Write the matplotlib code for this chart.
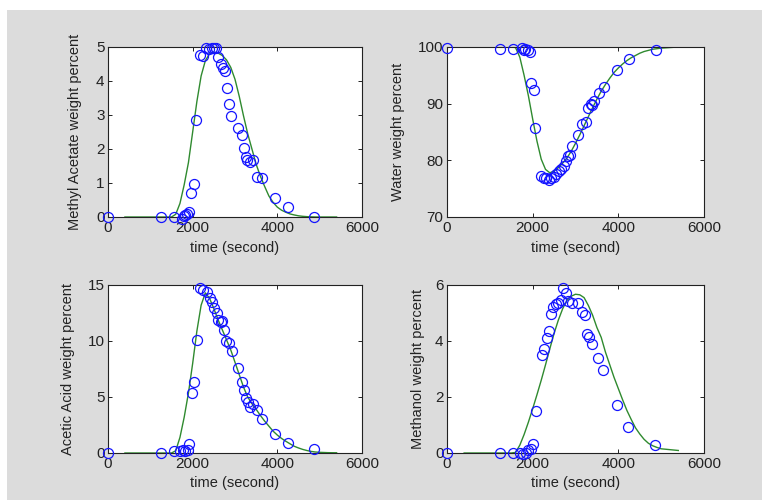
import matplotlib
matplotlib.use("Agg")
import matplotlib.pyplot as plt
from matplotlib.patches import Rectangle

plt.rcParams['font.family'] = ['Liberation Sans', 'DejaVu Sans']

# ---------------- data ----------------
t_model = [400, 1500, 1600, 1700, 1800, 1900, 2000, 2100, 2200, 2300, 2400, 2500,
           2600, 2700, 2800, 2900, 3000, 3100, 3200, 3300, 3400, 3500, 3600, 3700,
           3800, 3900, 4000, 4100, 4200, 4300, 4400, 4500, 4600, 4700, 4800, 4900,
           5000, 5200, 5400]

ma_model = [0, 0, 0.08, 0.4, 0.95, 1.6, 2.5, 3.4, 4.15, 4.6, 4.8, 4.85, 4.82, 4.75,
            4.62, 4.4, 4.05, 3.55, 2.98, 2.45, 2.0, 1.55, 1.2, 0.9, 0.62, 0.43, 0.29,
            0.2, 0.14, 0.09, 0.06, 0.035, 0.02, 0.01, 0.005, 0, 0, 0, 0]
water_model = [100, 100, 99.9, 98.2, 95.0, 91.4, 87.3, 83.4, 80.2, 78.4, 77.8, 78.1,
               78.7, 79.5, 80.4, 81.6, 83.0, 84.5, 86.1, 87.7, 89.3, 90.8, 92.2, 93.4,
               94.5, 95.5, 96.3, 97.0, 97.6, 98.1, 98.5, 98.9, 99.2, 99.4, 99.6, 99.7,
               99.8, 99.9, 100]
acetic_model = [0, 0, 0.2, 1.4, 3.2, 5.35, 8.0, 10.9, 13.2, 14.3, 13.8, 12.9, 11.9,
                11.0, 10.1, 9.2, 8.1, 7.0, 5.9, 5.0, 4.4, 3.9, 3.35, 2.85, 2.4, 1.95,
                1.6, 1.3, 1.05, 0.82, 0.6, 0.45, 0.32, 0.22, 0.14, 0.09, 0.06, 0.03, 0.02]
methanol_model = [0, 0, 0.02, 0.28, 0.66, 1.1, 1.58, 2.08, 2.6, 3.15, 3.72, 4.27, 4.75,
                  5.15, 5.45, 5.6, 5.67, 5.65, 5.55, 5.27, 4.92, 4.48, 4.13, 3.6, 3.15,
                  2.7, 2.3, 1.9, 1.52, 1.2, 0.9, 0.68, 0.49, 0.35, 0.26, 0.2, 0.15,
                  0.12, 0.09]

ma_t = [0, 1250, 1550, 1740, 1790, 1830, 1870, 1918, 1958, 2029, 2076, 2171, 2234,
        2305, 2384, 2447, 2502, 2542, 2605, 2660, 2720, 2763, 2800, 2866, 2905, 3063,
        3158, 3213, 3260, 3290, 3355, 3418, 3513, 3647, 3947, 4263, 4871]
ma_y = [0, 0, 0, -0.05, 0.02, 0.05, 0.1, 0.15, 0.72, 0.96, 2.85, 4.77, 4.73, 4.98,
        4.94, 4.98, 4.96, 4.98, 4.7, 4.5, 4.38, 4.3, 3.8, 3.33, 2.98, 2.62, 2.41,
        2.03, 1.75, 1.68, 1.63, 1.68, 1.19, 1.14, 0.57, 0.30, 0]

water_t = [0, 1231, 1543, 1754, 1793, 1832, 1886, 1933, 1972, 2026, 2065, 2198, 2260,
           2315, 2375, 2435, 2494, 2549, 2611, 2666, 2728, 2782, 2829, 2870, 2923,
           3063, 3157, 3235, 3297, 3352, 3390, 3440, 3546, 3663, 3975, 4248, 4871]
water_y = [99.8, 99.7, 99.7, 99.8, 99.5, 99.7, 99.4, 99.1, 93.7, 92.4, 85.7, 77.2,
           76.9, 76.8, 76.6, 76.9, 77.0, 77.5, 78.1, 78.5, 79.0, 79.9, 80.7, 80.9,
           82.5, 84.5, 86.4, 86.7, 89.2, 89.9, 89.8, 90.4, 91.8, 93.0, 96.0, 97.9, 99.4]

acetic_t = [0, 1247, 1563, 1700, 1760, 1830, 1880, 1918, 1974, 2037, 2092, 2171, 2250,
            2330, 2408, 2463, 2503, 2566, 2605, 2660, 2700, 2747, 2779, 2858, 2921,
            3063, 3158, 3213, 3260, 3316, 3355, 3418, 3529, 3647, 3947, 4263, 4871]
acetic_y = [0, 0, 0.15, 0.2, 0.25, 0.22, 0.3, 0.78, 5.4, 6.3, 10.1, 14.7, 14.55, 14.4,
            13.8, 13.5, 12.96, 12.5, 11.9, 11.7, 11.77, 11.0, 10.0, 9.8, 9.07, 7.57,
            6.3, 5.6, 4.88, 4.58, 4.13, 4.4, 3.83, 3.08, 1.74, 0.9, 0.33]

methanol_t = [0, 1227, 1537, 1704, 1766, 1844, 1899, 1954, 2015, 2080, 2213, 2267,
              2329, 2384, 2430, 2484, 2547, 2601, 2655, 2717, 2772, 2834, 2911, 3067,
              3144, 3222, 3276, 3323, 3377, 3533, 3649, 3960, 4231, 4852]
methanol_y = [0, 0, 0, 0, -0.02, 0.01, 0.09, 0.15, 0.33, 1.49, 3.5, 3.73, 4.09, 4.37,
              4.95, 5.23, 5.32, 5.35, 5.47, 5.88, 5.7, 5.43, 5.37, 5.35, 5.05, 4.93,
              4.24, 4.15, 3.89, 3.41, 2.98, 1.73, 0.93, 0.27]

panels = [
    ("Methyl Acetate weight percent", ma_t, ma_y, ma_model, (0, 5), [0, 1, 2, 3, 4, 5]),
    ("Water weight percent", water_t, water_y, water_model, (70, 100), [70, 80, 90, 100]),
    ("Acetic Acid weight percent", acetic_t, acetic_y, acetic_model, (0, 15), [0, 5, 10, 15]),
    ("Methanol weight percent", methanol_t, methanol_y, methanol_model, (0, 6), [0, 2, 4, 6]),
]
x_ticks = [0, 2000, 4000, 6000]

# ---------------- layout ----------------
W, H = 762, 500
fig = plt.figure(figsize=(W / 100, H / 100), dpi=100, facecolor='white')
fig.patches.append(Rectangle((7 / W, 0), 1, 1 - 10 / H, transform=fig.transFigure,
                             facecolor='#dcdcdc', edgecolor='none', zorder=-10))

rects = [
    [108 / W, 1 - 217 / H, 254 / W, 170 / H],
    [447 / W, 1 - 217 / H, 257 / W, 170 / H],
    [108 / W, 1 - 453 / H, 254 / W, 168 / H],
    [447 / W, 1 - 453 / H, 257 / W, 168 / H],
]
ylabel_x = [-0.13, -0.19, -0.157, -0.113]

for (label, tt, yy, model, ylim, yt), rect, lx in zip(panels, rects, ylabel_x):
    ax = fig.add_axes(rect)
    ax.set_facecolor('white')
    ax.plot(t_model, model, color='#2f8a2f', lw=1.0, zorder=2)
    ax.plot(tt, yy, linestyle='none', marker='o', markersize=7.2,
            markerfacecolor='none', markeredgecolor='#1414ff', markeredgewidth=0.9,
            clip_on=False, zorder=3)
    ax.set_xlim(0, 6000)
    ax.set_ylim(*ylim)
    ax.set_xticks(x_ticks)
    ax.set_yticks(yt)
    ax.tick_params(direction='in', length=3, width=0.7, top=True, right=True,
                   labelsize=11, colors='#222222')
    ax.tick_params(axis='x', pad=3)
    ax.tick_params(axis='y', pad=2.5)
    for s in ax.spines.values():
        s.set_linewidth(0.8)
        s.set_color('#222222')
    ax.set_xlabel("time (second)", fontsize=10.5, color='#222222', va='center')
    ax.xaxis.set_label_coords(0.5, -0.18)
    ax.set_ylabel(label, fontsize=10.5, color='#222222', va='center')
    ax.yaxis.set_label_coords(lx, 0.5)

fig.savefig("out.png", dpi=100, facecolor=fig.get_facecolor())
